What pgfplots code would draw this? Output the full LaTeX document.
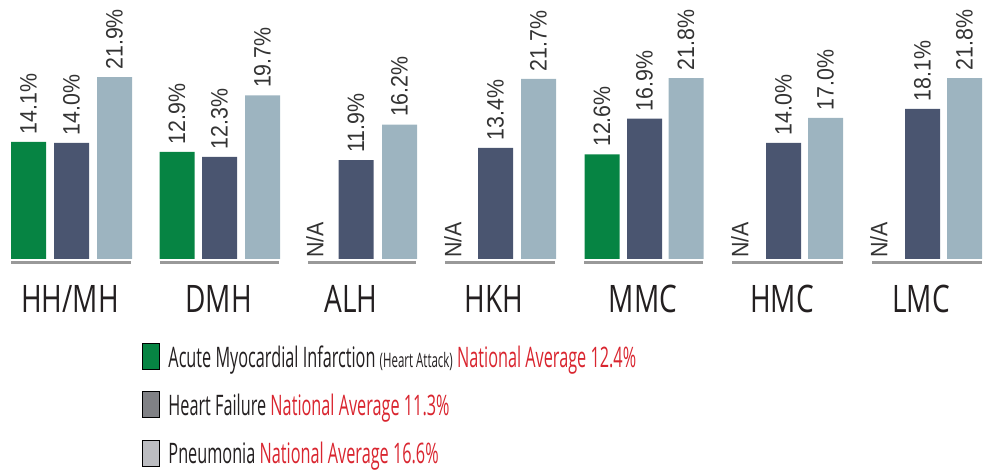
\documentclass[border=0pt]{standalone}
\usepackage{fontspec}
\usepackage{xcolor}
\usepackage{pgfplots}
\pgfplotsset{compat=1.18}
\setmainfont{Open Sans}
\newfontfamily\valfont{Liberation Sans}[FakeStretch=0.9]
\newfontfamily\catfont{Open Sans}[FakeStretch=0.74]
\newfontfamily\legfont{Open Sans}[FakeStretch=0.575]
\definecolor{cgreen}{HTML}{068443}
\definecolor{cdark}{HTML}{4A5570}
\definecolor{clight}{HTML}{9DB4C0}
\definecolor{cline}{HTML}{999999}
\definecolor{lgray}{HTML}{808185}
\definecolor{llight}{HTML}{BCBDC1}
\definecolor{cred}{HTML}{D9252F}
\definecolor{txt}{HTML}{231F20}
\definecolor{vtxt}{HTML}{333333}
\pgfplotsset{
  vlab/.style={
    nodes near coords={\pgfmathprintnumber[fixed,fixed zerofill,precision=1,assume math mode=true]{\pgfplotspointmeta}\%},
    every node near coord/.append style={rotate=90, anchor=west, inner xsep=5.5pt, inner ysep=0pt,
      font=\valfont\fontsize{17.8}{18}\selectfont, text=vtxt}
  }
}
\tikzset{
  glin/.style={cline, line width=2.25pt},
  na/.style={rotate=90, anchor=west, inner sep=0pt, font=\valfont\fontsize{17.8}{18}\selectfont, text=vtxt},
  cat/.style={anchor=base, inner sep=0pt, font=\catfont\fontsize{28.4}{30}\selectfont, text=txt},
}
\begin{document}
\begin{tikzpicture}
\begin{axis}[
  scale only axis, width=741pt, height=355.5pt,
  xmin=0, xmax=988, ymin=-25.904, ymax=31.205,
  hide axis, clip=false,
  legend cell align=left,
  legend style={at={(axis cs:142,-10.12)}, anchor=north west, draw=none, fill=none,
    inner sep=0pt, row sep=16.2pt, column sep=6.5pt, text=txt,
    font=\legfont\fontsize{21.2}{22}\selectfont,
    nodes={inner sep=0pt, text height=14pt, text depth=0pt, anchor=west}},
  legend image code/.code={\fill[#1] (0pt,-8.5pt) rectangle (12.75pt,11pt);},
]
\path (axis cs:0,-25.904) rectangle (axis cs:988,31.205);
% bars
\addplot[ybar, bar width=35, fill=cgreen, draw=none, vlab, forget plot]
  coordinates {(28.5,14.1) (177,12.9) (602,12.6)};
\addplot[ybar, bar width=35, fill=cdark, draw=none, vlab, forget plot]
  coordinates {(71.5,14.0) (219.5,12.3) (356,11.9) (495.5,13.4) (644.5,16.9) (783.5,14.0) (922.5,18.1)};
\addplot[ybar, bar width=35, fill=clight, draw=none, vlab, forget plot]
  coordinates {(114.5,21.9) (262.5,19.7) (399.5,16.2) (538.5,21.7) (686,21.8) (825.5,17.0) (964.5,21.8)};
% group baselines
\draw[glin] (axis cs:11,-0.48) -- (axis cs:131,-0.48);
\draw[glin] (axis cs:160,-0.48) -- (axis cs:279,-0.48);
\draw[glin] (axis cs:308,-0.48) -- (axis cs:416,-0.48);
\draw[glin] (axis cs:445,-0.48) -- (axis cs:555,-0.48);
\draw[glin] (axis cs:584,-0.48) -- (axis cs:703,-0.48);
\draw[glin] (axis cs:732,-0.48) -- (axis cs:843,-0.48);
\draw[glin] (axis cs:872,-0.48) -- (axis cs:982,-0.48);
% N/A
\node[na] at (axis cs:315,0.1) {N/A};
\node[na] at (axis cs:453,0.1) {N/A};
\node[na] at (axis cs:740,0.1) {N/A};
\node[na] at (axis cs:879,0.1) {N/A};
% categories
\node[cat] at (axis cs:70,-6.39) {HH/MH};
\node[cat] at (axis cs:218.5,-6.39) {DMH};
\node[cat] at (axis cs:351,-6.39) {ALH};
\node[cat] at (axis cs:494,-6.39) {HKH};
\node[cat] at (axis cs:643,-6.39) {MMC};
\node[cat] at (axis cs:782,-6.39) {HMC};
\node[cat] at (axis cs:921,-6.39) {LMC};
% legend
\addlegendimage{fill=cgreen}
\addlegendentry{Acute Myocardial Infarction {\fontsize{15}{15}\selectfont(Heart Attack)} \textcolor{cred}{National Average 12.4\%}}
\addlegendimage{fill=lgray}
\addlegendentry{Heart Failure \textcolor{cred}{National Average 11.3\%}}
\addlegendimage{fill=llight}
\addlegendentry{Pneumonia \textcolor{cred}{National Average 16.6\%}}
\end{axis}
\end{tikzpicture}
\end{document}
